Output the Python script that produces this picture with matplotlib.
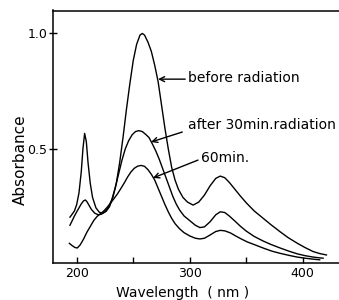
import matplotlib
matplotlib.use("Agg")
import matplotlib.pyplot as plt

plt.rcParams['font.family'] = ['DejaVu Sans']

# ---- data ----
before_wl = [194, 196, 198, 200, 202, 204, 205.5, 207, 208.5, 210, 212, 214, 217, 220, 223, 226,
             229, 232, 235, 238, 241, 244, 247, 250, 253, 256, 258, 260, 263, 266, 269, 272, 275,
             278, 281, 284, 287, 290, 294, 298, 303, 308, 313, 318, 323, 327, 331, 335, 340, 345,
             350, 357, 365, 372, 380, 387, 395, 402, 409, 415, 421]
before_abs = [0.205, 0.218, 0.232, 0.26, 0.31, 0.40, 0.50, 0.566, 0.53, 0.44, 0.35, 0.29, 0.245,
              0.226, 0.222, 0.23, 0.25, 0.29, 0.35, 0.44, 0.55, 0.67, 0.78, 0.88, 0.95, 0.99, 0.997,
              0.99, 0.96, 0.92, 0.86, 0.79, 0.69, 0.59, 0.50, 0.42, 0.365, 0.325, 0.29, 0.27, 0.257,
              0.27, 0.30, 0.34, 0.372, 0.382, 0.375, 0.355, 0.325, 0.295, 0.267, 0.232, 0.200,
              0.172, 0.142, 0.117, 0.093, 0.074, 0.057, 0.048, 0.042]

after30_wl = [194, 196, 198, 200, 202, 204, 206, 207.6, 209, 211, 213, 216, 219, 222, 225, 228,
              231, 234, 237, 240, 243, 246, 249, 252, 255, 258, 261, 264, 267, 270, 273, 276, 279,
              282, 285, 288, 291, 295, 300, 305, 309, 313, 318, 323, 327, 331, 335, 340, 345, 350,
              357, 365, 372, 380, 388, 395, 402, 409, 414, 418]
after30_abs = [0.17, 0.19, 0.21, 0.228, 0.245, 0.262, 0.275, 0.279, 0.272, 0.255, 0.238, 0.222,
               0.215, 0.218, 0.228, 0.248, 0.28, 0.33, 0.39, 0.45, 0.50, 0.535, 0.56, 0.574, 0.578,
               0.574, 0.562, 0.548, 0.52, 0.49, 0.455, 0.415, 0.375, 0.335, 0.295, 0.262, 0.236,
               0.21, 0.19, 0.17, 0.16, 0.163, 0.185, 0.215, 0.228, 0.225, 0.21, 0.188, 0.165,
               0.145, 0.122, 0.102, 0.087, 0.072, 0.058, 0.047, 0.039, 0.033, 0.030, 0.028]

after60_wl = [193.5, 196, 198.5, 200.5, 203, 206, 209, 212, 215, 218, 221, 224, 227, 230, 233,
              236, 239, 242, 245, 248, 251, 254, 257, 260, 263, 266, 269, 272, 275, 278, 281, 284,
              287, 291, 295, 300, 305, 309, 313, 318, 323, 327, 331, 336, 341, 346, 351, 358, 366,
              373, 380, 388, 395, 402, 409, 415]
after60_abs = [0.092, 0.082, 0.074, 0.072, 0.085, 0.11, 0.14, 0.165, 0.19, 0.208, 0.22, 0.232,
               0.248, 0.266, 0.285, 0.305, 0.328, 0.352, 0.378, 0.40, 0.416, 0.425, 0.428, 0.424,
               0.41, 0.39, 0.365, 0.33, 0.295, 0.26, 0.228, 0.20, 0.177, 0.155, 0.138, 0.124,
               0.114, 0.111, 0.114, 0.128, 0.143, 0.148, 0.146, 0.137, 0.123, 0.11, 0.098, 0.085,
               0.07, 0.058, 0.049, 0.04, 0.033, 0.028, 0.024, 0.021]

x_major = [200, 300, 400]
x_minor = [250, 350]
y_major = [0.5, 1.0]
y_labels = ["0.5", "1.0"]

labels = ["before radiation", "after 30min.radiation", "60min."]

# ---- figure ----
fig = plt.figure(figsize=(3.39, 3.0), dpi=100)
ax = fig.add_axes([53 / 339, 1 - 263.3 / 300, 1 - 53 / 339, (263.3 - 10.5) / 300])

lw = 1.0
ax.plot(before_wl, before_abs, color='black', lw=lw)
ax.plot(after30_wl, after30_abs, color='black', lw=lw)
ax.plot(after60_wl, after60_abs, color='black', lw=lw)

ax.set_xlim(179.0, 432.1)
ax.set_ylim(0.006, 1.096)

ax.spines['right'].set_visible(False)
for s in ['left', 'bottom', 'top']:
    ax.spines[s].set_linewidth(1.1)

ax.set_xticks(x_major)
ax.set_xticks(x_minor, minor=True)
ax.set_yticks(y_major)
ax.set_yticklabels(y_labels)
ax.tick_params(axis='x', which='both', direction='in', length=4, width=1, labelsize=9, pad=3)
ax.tick_params(axis='y', which='major', direction='inout', length=6, width=1, labelsize=9, pad=1)
ax.tick_params(axis='y', which='minor', left=False)
ax.tick_params(axis='x', which='both', top=False)

# annotations
arrow = dict(arrowstyle='->', color='black', lw=1.0, shrinkA=0, shrinkB=0,
             mutation_scale=9)
ax.annotate('', xy=(272, 0.80), xytext=(296, 0.80), arrowprops=arrow)
ax.text(298.7, 0.805, labels[0], fontsize=10, ha='left', va='center')
ax.annotate('', xy=(265.8, 0.529), xytext=(293.4, 0.572), arrowprops=arrow)
ax.text(298.7, 0.602, labels[1], fontsize=10, ha='left', va='center')
ax.annotate('', xy=(267.5, 0.374), xytext=(307.3, 0.451), arrowprops=arrow)
ax.text(310.4, 0.46, labels[2], fontsize=10, ha='left', va='center')

fig.text(183 / 339, 1 - 292.5 / 300, "Wavelength  ( nm )", fontsize=10, ha='center', va='center')
fig.text(20 / 339, 1 - 160 / 300, "Absorbance", fontsize=11, rotation=90, ha='center', va='center')

fig.savefig("out.png", dpi=100)
